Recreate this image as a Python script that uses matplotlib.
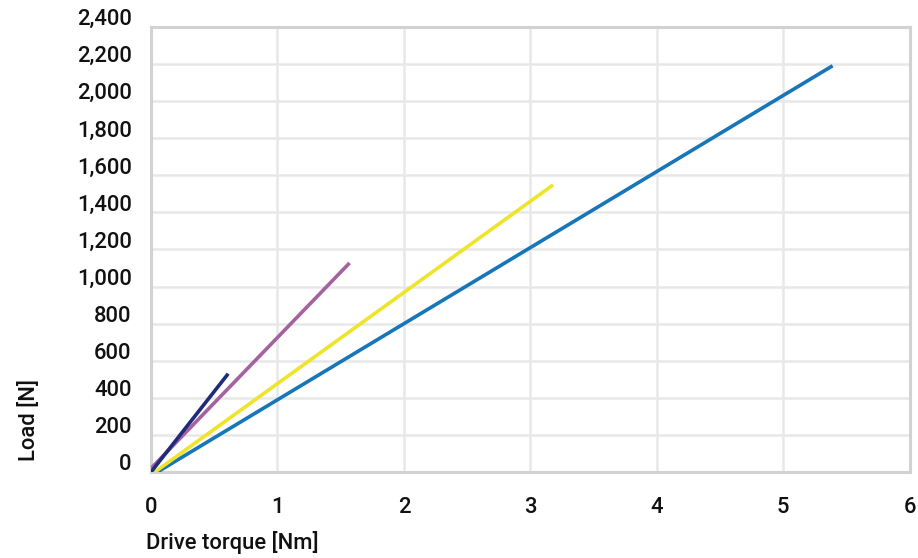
import matplotlib
matplotlib.use("Agg")
import matplotlib.pyplot as plt
import matplotlib.transforms as mtransforms

plt.rcParams['font.family'] = ['Roboto', 'DejaVu Sans']
plt.rcParams['font.weight'] = 'medium'

# drive torque [Nm] vs load [N], one line per size
torque_a = [0.05, 5.39]
load_a = [0, 2190]
torque_b = [0.03, 3.18]
load_b = [0, 1548]
torque_c = [0.0, 1.57]
load_c = [20, 1127]
torque_d = [0.0, 0.61]
load_d = [0, 530]

colors = ['#1775b9', '#eee42a', '#a5629f', '#1f2b7b']

x_ticks = [0, 1, 2, 3, 4, 5, 6]
y_ticks = list(range(0, 2401, 200))

fig = plt.figure(figsize=(9.18, 5.58), dpi=100)
ax = fig.add_axes([0.1645, 0.154, 0.8265, 0.798])

ax.plot(torque_a, load_a, color=colors[0], lw=2.6, solid_capstyle='butt', zorder=3)
ax.plot(torque_b, load_b, color=colors[1], lw=2.6, solid_capstyle='butt', zorder=3)
ax.plot(torque_c, load_c, color=colors[2], lw=2.6, solid_capstyle='butt', zorder=3)
ax.plot(torque_d, load_d, color=colors[3], lw=2.6, solid_capstyle='butt', zorder=4)

ax.set_xlim(0, 6)
ax.set_ylim(0, 2400)
ax.set_xticks(x_ticks)
ax.set_yticks(y_ticks)
ax.set_xticklabels([str(v) for v in x_ticks])
ax.set_yticklabels(['{:,}'.format(v) for v in y_ticks])

ax.grid(True, color='#e8e8e8', lw=1.8)
ax.set_axisbelow(True)
for s in ax.spines.values():
    s.set_color('#d2d2d2')
    s.set_linewidth(2.2)

ax.tick_params(axis='both', length=0, labelsize=15.8, colors='#111111')
ax.tick_params(axis='x', pad=18)
ax.tick_params(axis='y', pad=14)

# y labels sit a bit above their gridlines
off = mtransforms.ScaledTranslation(0, 7 / 72, fig.dpi_scale_trans)
for lab in ax.get_yticklabels():
    lab.set_transform(lab.get_transform() + off)

fig.text(146 / 918, 1 - 543 / 558, 'Drive torque [Nm]', fontsize=15.8,
         ha='left', va='center', color='#111111')
fig.text(29 / 918, 1 - 420 / 558, 'Load [N]', fontsize=15.8, rotation=90,
         ha='center', va='center', color='#111111')

fig.savefig('out.png', dpi=100)
